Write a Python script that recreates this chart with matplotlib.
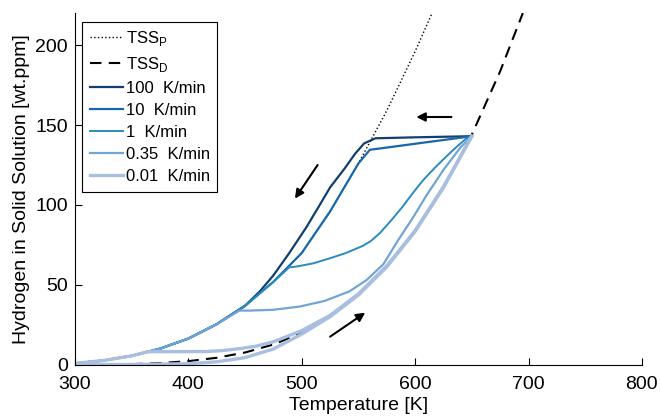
import matplotlib
matplotlib.use('Agg')
import matplotlib.pyplot as plt
import numpy as np

plt.rcParams['font.family'] = ['Liberation Sans', 'DejaVu Sans']

# ---- data ----
# Terminal solid solubility for precipitation (TSS_P) and dissolution (TSS_D)
T_P = [300, 325, 350, 375, 400, 425, 450, 475, 500, 525, 550, 575, 600, 615]
H_P = [1.0, 2.8, 5.7, 10.2, 16.5, 25.5, 37, 52, 70, 96, 126, 159, 196, 220]

T_D = [300, 325, 350, 375, 400, 425, 450, 475, 500, 525, 550, 575, 600, 625, 650, 675, 695]
H_D = [0.07, 0.2, 0.52, 1.17, 2.4, 4.5, 7.8, 12.8, 20.1, 30.2, 43.7, 61.3, 83.5, 110.9, 144, 183.6, 220]

# common heating path
T_heat = [300, 350, 400, 425, 450, 475, 500, 525, 550, 575, 600, 625, 650]
H_heat = [0.3, 0.3, 0.8, 2.0, 4.6, 10.0, 19.3, 30.2, 43.7, 61.3, 83.5, 110.9, 143]

# cooling branches (before joining the TSS_P tail)
T_100 = [650, 600, 565, 555, 547, 538, 525, 515, 504, 489, 475, 463]
H_100 = [143, 142.3, 141.7, 138.5, 132, 123, 111, 99, 86, 70, 56, 46]

T_10 = [650, 560]
H_10 = [143, 134.5]

T_1 = [650, 645, 636, 627, 617, 607, 598, 589, 579, 569, 561, 554, 539, 524, 510, 495, 489]
H_1 = [143, 141.5, 136, 130, 123, 115.5, 107.5, 99, 90.5, 82.5, 77.5, 74.5, 70, 66.5, 63.5, 61.5, 61]

T_035 = [650, 640, 625, 610, 598, 585, 572, 557, 542, 520, 498, 475, 454, 445]
H_035 = [143, 136, 122, 106, 92, 78, 63, 53, 46, 40, 36.5, 34.5, 34, 34]

T_001 = [650, 625, 600, 575, 550, 525, 500, 475, 460, 445, 430, 416, 364]
H_001 = [143, 111.5, 84, 62, 44.5, 31, 21.5, 14.5, 11.8, 10.2, 9.0, 8.4, 8.3]

rate_labels = ['100  K/min', '10  K/min', '1  K/min', '0.35  K/min', '0.01  K/min']
rate_colors = ['#123f6e', '#1767ae', '#2a8bbf', '#72a4d4', '#a9bfe0']
rate_widths = [1.6, 1.6, 1.4, 1.6, 2.4]

# annotation arrows: (T_start, H_start, T_end, H_end)
arrows = [(632, 155, 601, 155), (514, 125, 494, 104), (525, 17.7, 556, 32.7)]


def with_tail(Tb, Hb):
    Tb = np.asarray(Tb, float)
    Hb = np.asarray(Hb, float)
    tp = np.asarray(T_P, float)
    hp = np.asarray(H_P, float)
    m = tp < Tb[-1]
    return (np.concatenate([Tb, tp[m][::-1]]),
            np.concatenate([Hb, hp[m][::-1]]))


fig = plt.figure(figsize=(6.6, 4.2), dpi=100)
ax = fig.add_axes([0.1136, 0.131, 0.859, 0.838])

ax.plot(T_P, H_P, linestyle=':', color='k', lw=1.0, label='TSS$_\\mathregular{P}$')
ax.plot(T_D, H_D, linestyle=(0, (5.5, 3.5)), color='k', lw=1.5,
        label='TSS$_\\mathregular{D}$')

branches = [(T_100, H_100), (T_10, H_10), (T_1, H_1), (T_035, H_035), (T_001, H_001)]
for (tb, hb), lab, col, lw in zip(branches, rate_labels, rate_colors, rate_widths):
    tt, hh = with_tail(tb, hb)
    ax.plot(tt, hh, color=col, lw=lw, label=lab, solid_joinstyle='round')

ax.plot(T_heat, H_heat, color=rate_colors[-1], lw=rate_widths[-1], solid_joinstyle='round')

for (x0, y0, x1, y1) in arrows:
    ax.annotate('', xy=(x1, y1), xytext=(x0, y0),
                arrowprops=dict(arrowstyle='-|>', color='k', lw=1.5,
                                mutation_scale=13, shrinkA=0, shrinkB=0))

ax.set_xlim(300, 800)
ax.set_ylim(0, 220)
ax.set_xticks([300, 400, 500, 600, 700, 800])
ax.set_yticks([0, 50, 100, 150, 200])
ax.spines['top'].set_visible(False)
ax.spines['right'].set_visible(False)
for s in ('left', 'bottom'):
    ax.spines[s].set_linewidth(0.8)
ax.tick_params(direction='in', length=5, width=0.8, labelsize=14)
ax.tick_params(axis='x', pad=8)
ax.tick_params(axis='y', pad=5)
ax.set_xlabel('Temperature [K]', fontsize=14, labelpad=3)
ax.set_ylabel('Hydrogen in Solid Solution [wt.ppm]', fontsize=14, labelpad=4)

leg = ax.legend(loc='upper left', bbox_to_anchor=(0.013, 0.975), borderaxespad=0,
                fontsize=12, frameon=True, fancybox=False, edgecolor='k',
                framealpha=1, labelspacing=0.42, handlelength=2.0, handletextpad=0.15,
                borderpad=0.45)
leg.get_frame().set_linewidth(0.8)
leg.set_zorder(5)

fig.savefig('out.png', dpi=100)
